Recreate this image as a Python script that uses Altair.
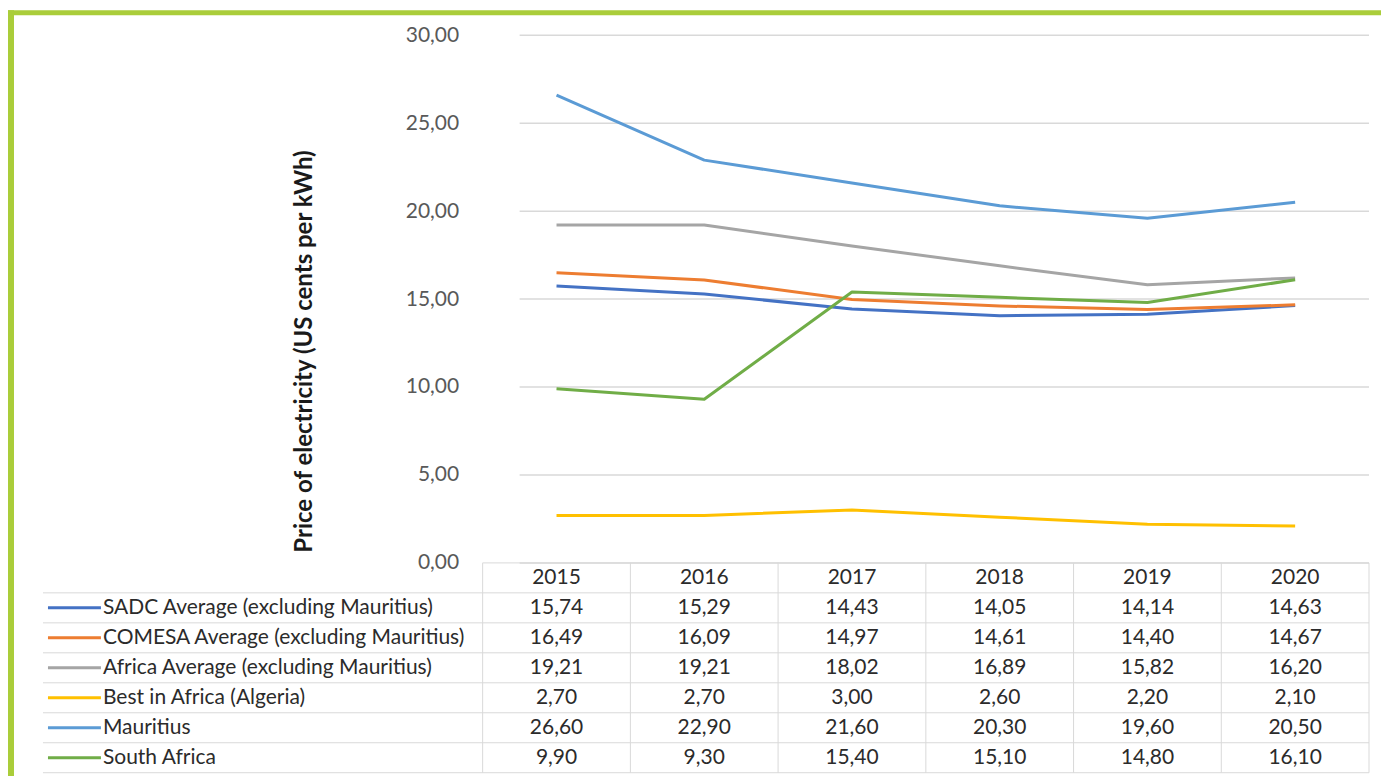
import altair as alt
import pandas as pd

years = ["2015", "2016", "2017", "2018", "2019", "2020"]
series = [
    "SADC Average (excluding Mauritius)",
    "COMESA Average (excluding Mauritius)",
    "Africa Average (excluding Mauritius)",
    "Best in Africa (Algeria)",
    "Mauritius",
    "South Africa",
]
colors = ["#4472C4", "#ED7D31", "#A5A5A5", "#FFC000", "#5B9BD5", "#70AD47"]
sadc = [15.74, 15.29, 14.43, 14.05, 14.14, 14.63]
comesa = [16.49, 16.09, 14.97, 14.61, 14.40, 14.67]
africa = [19.21, 19.21, 18.02, 16.89, 15.82, 16.20]
best = [2.70, 2.70, 3.00, 2.60, 2.20, 2.10]
mauritius = [26.60, 22.90, 21.60, 20.30, 19.60, 20.50]
south_africa = [9.90, 9.30, 15.40, 15.10, 14.80, 16.10]
y_ticks = [0, 5, 10, 15, 20, 25, 30]
y_title = "Price of electricity (US cents per kWh)"
HEADER = " "

values = [sadc, comesa, africa, best, mauritius, south_africa]

W, H_LINE, H_TAB = 887, 528, 210
FONT = "Lato"
GRID = "#d9d9d9"
FRAME = "#AACD3A"
TXT = "#2b2b2b"
FS = 21

def fmt(v):
    return f"{v:.2f}".replace(".", ",")

long_rows = []
for s, vals in zip(series, values):
    for y, v in zip(years, vals):
        long_rows.append({"series": s, "year": y, "value": v})
df_lines = pd.DataFrame(long_rows)

tab_rows = [{"row": HEADER, "year": y, "label": y} for y in years]
tab_rows += [{"row": r["series"], "year": r["year"], "label": fmt(r["value"])} for r in long_rows]
df_tab = pd.DataFrame(tab_rows)
df_series = pd.DataFrame({"row": series})
row_domain = [HEADER] + series

xscale = alt.Scale(type="band", domain=years, paddingInner=0, paddingOuter=0)
def rowscale():
    return alt.Scale(type="band", domain=row_domain, range=[H_LINE, H_LINE + H_TAB],
                     paddingInner=0, paddingOuter=0)
def pricescale():
    return alt.Scale(domain=[0, 30], range=[H_LINE, 0], nice=False, zero=True)
cscale = alt.Scale(domain=series, range=colors)

grid = alt.Chart(pd.DataFrame({"v": y_ticks})).mark_rule(strokeWidth=1.5, color=GRID).encode(
    x=alt.value(37), x2=alt.value(W),
    y=alt.Y("v:Q", scale=pricescale(),
            axis=alt.Axis(values=y_ticks, title=y_title, grid=False,
                          domain=False, ticks=False, labelPadding=24,
                          labelExpr="replace(format(datum.value, '.2f'), '.', ',')",
                          labelFont=FONT, labelFontSize=FS, labelColor="#595959",
                          titleFont=FONT, titleFontSize=24, titleFontWeight="bold",
                          titleColor="#1a1a1a", titleX=-178, titleY=316,
                          titleAngle=270, titleBaseline="middle", titleAlign="center")),
)

lines = alt.Chart(df_lines).mark_line(strokeWidth=3, strokeJoin="round").encode(
    x=alt.X("year:N", scale=xscale, bandPosition=0.5, axis=None),
    y=alt.Y("value:Q", scale=pricescale(), axis=None),
    color=alt.Color("series:N", scale=cscale, legend=None),
    detail="series:N",
)

tab_text = alt.Chart(df_tab).mark_text(font=FONT, fontSize=FS, color=TXT).encode(
    x=alt.X("year:N", scale=xscale, bandPosition=0.5, axis=None),
    y=alt.Y("row:N", scale=rowscale(), bandPosition=0.5, axis=None),
    text="label:N",
)

leg_text = alt.Chart(df_series).mark_text(font=FONT, fontSize=FS, color=TXT,
                                         align="left").encode(
    x=alt.value(-380),
    y=alt.Y("row:N", scale=rowscale(), bandPosition=0.5, axis=None),
    text="row:N",
)

leg_keys = alt.Chart(df_series).mark_rule(strokeWidth=3).encode(
    x=alt.value(-435), x2=alt.value(-382),
    y=alt.Y("row:N", scale=rowscale(), bandPosition=0.5, axis=None),
    color=alt.Color("row:N", scale=cscale, legend=None),
)

hlines = alt.Chart(df_series).mark_rule(strokeWidth=1, color=GRID).encode(
    x=alt.value(-440), x2=alt.value(W),
    y=alt.Y("row:N", scale=rowscale(), bandPosition=0, axis=None),
)
hline_bottom = alt.Chart(pd.DataFrame({"row": [series[-1]]})).mark_rule(strokeWidth=1, color=GRID).encode(
    x=alt.value(-440), x2=alt.value(W),
    y=alt.Y("row:N", scale=rowscale(), bandPosition=1, axis=None),
)
hline_top = alt.Chart(pd.DataFrame({"row": [HEADER]})).mark_rule(strokeWidth=1, color=GRID).encode(
    x=alt.value(0), x2=alt.value(W),
    y=alt.Y("row:N", scale=rowscale(), bandPosition=0, axis=None),
)
vlines = alt.Chart(pd.DataFrame({"year": years})).mark_rule(strokeWidth=1, color=GRID).encode(
    x=alt.X("year:N", scale=xscale, bandPosition=0, axis=None),
    y=alt.value(H_LINE), y2=alt.value(H_LINE + H_TAB),
)
vline_right = alt.Chart(pd.DataFrame({"year": [years[-1]]})).mark_rule(strokeWidth=1, color=GRID).encode(
    x=alt.X("year:N", scale=xscale, bandPosition=1, axis=None),
    y=alt.value(H_LINE), y2=alt.value(H_LINE + H_TAB),
)

frame_top = alt.Chart(pd.DataFrame({"k": [0]})).mark_rule(strokeWidth=5, color=FRAME).encode(
    x=alt.value(-476), x2=alt.value(W + 20), y=alt.value(-22.5),
)
frame_left = alt.Chart(pd.DataFrame({"k": [0]})).mark_rule(strokeWidth=6, color=FRAME).encode(
    x=alt.value(-472), y=alt.value(-25), y2=alt.value(H_LINE + H_TAB + 20),
)

chart = alt.layer(
    grid, hlines, hline_bottom, hline_top, vlines, vline_right,
    lines, tab_text, leg_text, leg_keys, frame_top, frame_left,
).resolve_scale(y="independent").properties(
    width=W, height=H_LINE + H_TAB,
    autosize=alt.AutoSizeParams(type="none"),
    padding={"left": 475, "top": 27, "right": 12, "bottom": 3},
).configure(background="white").configure_view(stroke=None)

chart.save("out.html", embed_options={"renderer": "svg", "actions": False})
